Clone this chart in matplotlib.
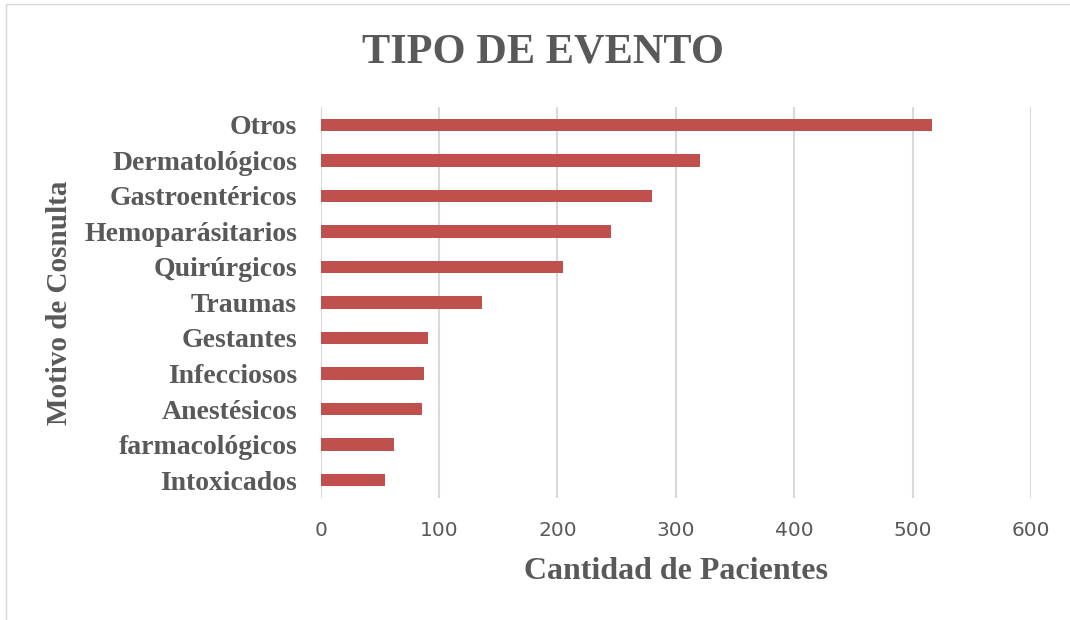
import matplotlib.pyplot as plt
from matplotlib.patches import Rectangle

categorias = ['Otros', 'Dermatológicos', 'Gastroentéricos', 'Hemoparásitarios',
              'Quirúrgicos', 'Traumas', 'Gestantes', 'Infecciosos',
              'Anestésicos', 'farmacológicos', 'Intoxicados']
pacientes = [516, 320, 280, 245, 205, 136, 91, 87, 86, 62, 54]
ticks_x = [0, 100, 200, 300, 400, 500, 600]

gris = '#595959'
serif = 'Liberation Serif'

fig = plt.figure(figsize=(10.7, 6.2), dpi=100)
ax = fig.add_axes([0.2997, 0.197, 0.6639, 0.6304])

# de arriba hacia abajo
pos = list(range(len(categorias)))[::-1]
ax.barh(pos, pacientes, height=0.35, color='#c0504d', zorder=3)

ax.set_xlim(0, 600)
ax.set_ylim(-0.5, len(categorias) - 0.5)
ax.set_xticks(ticks_x)
ax.set_xticklabels([str(t) for t in ticks_x], fontsize=14.5, color=gris, family='DejaVu Sans')
ax.set_yticks(pos)
ax.set_yticklabels(categorias, fontsize=20, fontweight='bold', color=gris, family=serif)
ax.tick_params(axis='both', length=0)
ax.tick_params(axis='y', pad=17)
ax.tick_params(axis='x', pad=17)
ax.grid(axis='x', color='#d9d9d9', linewidth=1.5, zorder=0)
for s in ax.spines.values():
    s.set_visible(False)

fig.text(0.5075, 0.915, 'TIPO DE EVENTO', ha='center', va='center', fontsize=30.5,
         fontweight='bold', color=gris, family=serif)
fig.text(0.632, 0.078, 'Cantidad de Pacientes', ha='center', va='center', fontsize=23,
         fontweight='bold', color=gris, family=serif)
fig.text(0.056, 0.512, 'Motivo de Cosnulta', ha='center', va='center', fontsize=21,
         fontweight='bold', color=gris, family=serif, rotation=90)

# borde del grafico
fig.patches.append(Rectangle((6 / 1070, -0.01), 1.02, 1 - 4 / 620 + 0.01, transform=fig.transFigure,
                             fill=False, edgecolor='#d9d9d9', linewidth=1))

fig.savefig('out.png', dpi=100)
